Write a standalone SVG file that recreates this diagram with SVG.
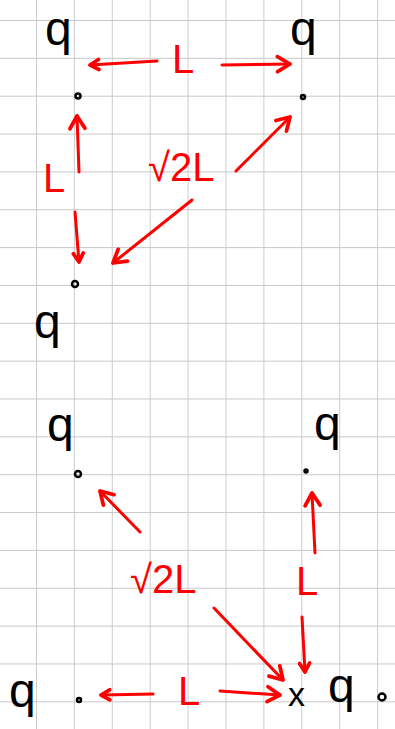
<svg xmlns="http://www.w3.org/2000/svg" width="395" height="729" viewBox="0 0 395 729">
<defs>
<pattern id="grid" x="36" y="20" width="37.9" height="37.85" patternUnits="userSpaceOnUse">
<path d="M0,0 V37.85 M0,0 H37.9" stroke="#c8c8c8" stroke-width="1.8" fill="none"/>
</pattern>
<marker id="ah" markerUnits="userSpaceOnUse" markerWidth="20" markerHeight="20" refX="0" refY="0" viewBox="-12 -8 14 16" orient="auto">
<path d="M-10,-6 L0,0 L-10,6" fill="none" stroke="#ff0000" stroke-width="3" stroke-linecap="round" stroke-linejoin="round"/>
</marker>
<marker id="ahs" markerUnits="userSpaceOnUse" markerWidth="20" markerHeight="20" refX="0" refY="0" viewBox="-12 -8 14 16" orient="auto">
<path d="M-7,-4 L0,0 L-7,4" fill="none" stroke="#ff0000" stroke-width="3" stroke-linecap="round" stroke-linejoin="round"/>
</marker>
</defs>
<style>
.q{font-family:"Liberation Sans","DejaVu Sans",sans-serif;font-size:48px;fill:#000}
.lab{font-family:"Liberation Sans","DejaVu Sans",sans-serif;font-size:40px;fill:#ff0000}
.c{stroke:#ff0000;stroke-width:3;fill:none;stroke-linecap:round}
.dot{fill:none;stroke:#000;stroke-width:2.5}
</style>
<rect width="395" height="729" fill="#fff"/>
<rect width="395" height="729" fill="url(#grid)"/>

<g id="charge-top-left"><text class="q" x="45" y="45">q</text><circle class="dot" cx="78" cy="96" r="2.5"/></g>
<g id="charge-top-right"><text class="q" x="290" y="45">q</text><circle class="dot" cx="303" cy="97" r="2"/></g>
<g id="charge-mid-left"><text class="q" x="34" y="338">q</text><circle class="dot" cx="75" cy="284" r="3"/></g>

<g id="charge-bot-left-top"><text class="q" x="47" y="441">q</text><circle class="dot" cx="78" cy="474" r="3"/></g>
<g id="charge-bot-right-top"><text class="q" x="314" y="440">q</text><circle class="dot" cx="306" cy="471" r="1.5"/></g>
<g id="charge-bot-left"><text class="q" x="9" y="707">q</text><circle class="dot" cx="79" cy="700" r="2"/></g>
<g id="point-x"><text class="q" x="288" y="706" style="font-size:34px">x</text></g>
<g id="charge-bot-right"><text class="q" x="328" y="702">q</text><circle class="dot" cx="382" cy="697" r="3.5"/></g>

<g id="labels">
<text class="lab" x="172" y="73">L</text>
<text class="lab" x="43" y="192">L</text>
<text class="lab" x="148" y="181">√2L</text>
<text class="lab" x="130" y="593">√2L</text>
<text class="lab" x="296" y="595">L</text>
<text class="lab" x="178" y="705">L</text>
</g>

<g id="connectors">
<path class="c" d="M157,61 L90,65" marker-end="url(#ahs)"/>
<path class="c" d="M222,65 L290,64" marker-end="url(#ah)"/>
<path class="c" d="M79,172 L77,116" marker-end="url(#ah)"/>
<path class="c" d="M75,212 L79,262" marker-end="url(#ahs)"/>
<path class="c" d="M236,171 L290,117" marker-end="url(#ah)"/>
<path class="c" d="M192,200 L113,263" marker-end="url(#ah)"/>
<path class="c" d="M140,532 L100,491" marker-end="url(#ah)"/>
<path class="c" d="M214,608 L283,680" marker-end="url(#ah)"/>
<path class="c" d="M315,553 L312,493" marker-end="url(#ah)"/>
<path class="c" d="M302,617 L305,672" marker-end="url(#ahs)"/>
<path class="c" d="M153,694 L101,695" marker-end="url(#ahs)"/>
<path class="c" d="M220,691 L280,695" marker-end="url(#ah)"/>
</g>
</svg>
